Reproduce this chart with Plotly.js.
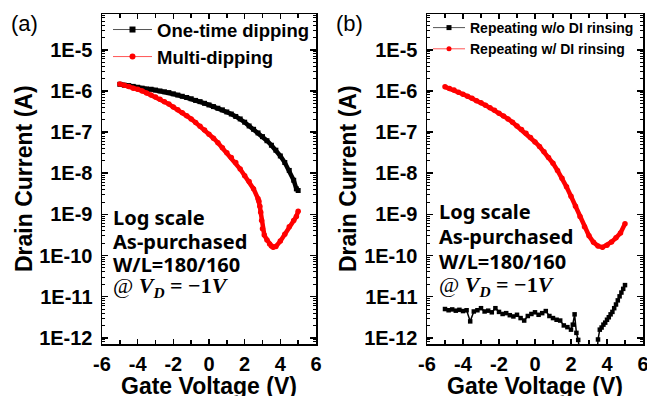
<!DOCTYPE html>
<html><head><meta charset="utf-8">
<script src="https://cdn.plot.ly/plotly-3.0.1.min.js"></script>
<style>html,body{margin:0;padding:0;background:#fff}#chart{width:647px;height:396px}</style>
</head><body><div id="chart"></div>
<script>
// ---- Data (gate voltage in V, drain current in A) ----
const vOneTime = [-5,-4.75,-4.5,-4.25,-4,-3.75,-3.5,-3.25,-3,-2.75,-2.5,-2.25,-2,-1.75,-1.5,-1.25,-1,-0.75,-0.5,-0.25,0,0.25,0.5,0.75,1,1.25,1.5,1.75,2,2.25,2.5,2.75,3,3.25,3.5,3.75,4,4.25,4.5,4.75,4.9,5];
const iOneTime = [1.45e-6,1.38e-6,1.35e-6,1.29e-6,1.23e-6,1.17e-6,1.12e-6,1.10e-6,1.05e-6,1.00e-6,9.55e-7,9.12e-7,8.51e-7,7.94e-7,7.41e-7,6.92e-7,6.46e-7,5.89e-7,5.50e-7,5.01e-7,4.57e-7,4.17e-7,3.80e-7,3.47e-7,3.09e-7,2.75e-7,2.40e-7,2.09e-7,1.74e-7,1.41e-7,1.17e-7,9.55e-8,7.76e-8,6.17e-8,4.79e-8,3.63e-8,2.63e-8,1.82e-8,1.17e-8,6.76e-9,4.17e-9,3.80e-9];

const vMulti = [-5,-4.75,-4.5,-4.25,-4,-3.75,-3.5,-3.25,-3,-2.75,-2.5,-2.25,-2,-1.75,-1.5,-1.25,-1,-0.75,-0.5,-0.25,0,0.25,0.5,0.75,1,1.25,1.5,1.75,2,2.25,2.5,2.75,2.8,2.85,2.9,2.95,3,3.1,3.25,3.4,3.5,3.6,3.75,4,4.25,4.5,4.75,4.9,5];
const iMulti = [1.48e-6,1.38e-6,1.29e-6,1.17e-6,1.10e-6,1.00e-6,8.91e-7,7.94e-7,7.08e-7,6.31e-7,5.50e-7,4.79e-7,4.07e-7,3.47e-7,2.95e-7,2.51e-7,2.09e-7,1.70e-7,1.38e-7,1.12e-7,8.91e-8,7.08e-8,5.50e-8,4.17e-8,3.16e-8,2.40e-8,1.82e-8,1.26e-8,8.71e-9,6.31e-9,4.17e-9,2.40e-9,2.09e-9,1.58e-9,1.12e-9,7.08e-10,4.47e-10,3.16e-10,2.40e-10,1.91e-10,1.70e-10,1.58e-10,1.66e-10,2.24e-10,3.31e-10,5.01e-10,7.08e-10,8.91e-10,1.20e-9];

const vNoRinse = [-5,-4.8,-4.6,-4.4,-4.2,-4,-3.8,-3.6,-3.4,-3.2,-3,-2.8,-2.6,-2.4,-2.2,-2,-1.8,-1.6,-1.4,-1.2,-1,-0.8,-0.6,-0.4,-0.2,0,0.2,0.4,0.6,0.8,1,1.2,1.4,1.6,1.8,2,2.1,2.2,2.3,2.4,2.5,3,3.45,3.5,3.6,3.7,3.8,3.9,4,4.1,4.2,4.3,4.4,4.5,4.6,4.7,4.8,4.9,5];
const iNoRinse = [5.01e-12,4.68e-12,4.90e-12,4.57e-12,4.79e-12,4.47e-12,4.68e-12,2.51e-12,4.37e-12,4.68e-12,5.25e-12,4.37e-12,4.57e-12,4.17e-12,5.25e-12,4.27e-12,3.80e-12,3.98e-12,3.55e-12,3.31e-12,3.63e-12,3.02e-12,2.63e-12,3.39e-12,3.80e-12,4.17e-12,3.63e-12,3.98e-12,4.47e-12,3.39e-12,3.02e-12,2.75e-12,2.63e-12,2.00e-12,1.82e-12,1.58e-12,2.09e-12,3.72e-12,1.32e-12,8.91e-13,3.98e-13,null,3.98e-13,9.12e-13,1.58e-12,1.78e-12,2.09e-12,2.34e-12,2.75e-12,3.16e-12,3.72e-12,4.27e-12,5.25e-12,6.46e-12,8.13e-12,1.02e-11,1.26e-11,1.55e-11,1.91e-11];

const vRinse = [-5,-4.75,-4.5,-4.25,-4,-3.75,-3.5,-3.25,-3,-2.75,-2.5,-2.25,-2,-1.75,-1.5,-1.25,-1,-0.75,-0.5,-0.25,0,0.25,0.5,0.75,1,1.25,1.5,1.75,2,2.25,2.5,2.75,3,3.25,3.5,3.75,4,4.25,4.5,4.75,5];
const iRinse = [1.26e-6,1.15e-6,1.05e-6,9.33e-7,8.32e-7,7.41e-7,6.61e-7,5.75e-7,5.13e-7,4.47e-7,3.89e-7,3.39e-7,2.88e-7,2.45e-7,2.09e-7,1.74e-7,1.41e-7,1.15e-7,9.33e-8,7.41e-8,5.75e-8,4.47e-8,3.31e-8,2.40e-8,1.74e-8,1.17e-8,7.59e-9,4.68e-9,2.75e-9,1.58e-9,8.91e-10,5.01e-10,3.02e-10,2.09e-10,1.70e-10,1.58e-10,1.78e-10,2.14e-10,2.69e-10,3.55e-10,5.89e-10];

const seriesNamesA = ['One-time dipping', 'Multi-dipping'];
const seriesNamesB = ['Repeating w/o DI rinsing', 'Repeating w/ DI rinsing'];
const xTickVals = [-6,-4,-2,0,2,4,6];
const xTickText = ['-6','-4','-2','0','2','4','6'];
const yTickVals = [1e-12,1e-11,1e-10,1e-9,1e-8,1e-7,1e-6,1e-5];
const yTickText = ['1E-12','1E-11','1E-10','1E-9','1E-8','1E-7','1E-6','1E-5'];
const xTitle = 'Gate Voltage (V)';
const yTitle = 'Drain Current (A)';
const noteLines = ['Log scale', 'As-purchased', 'W/L=180/160'];
const biasLine = '@ <b><i>V</i></b><sub><b><i>D</i></b></sub> <b>= −1<i>V</i></b>';

// ---- Layout helpers ----
const W = 647, H = 396;
const px = x => x / W;
const py = y => 1 - y / H;
const SANS = 'Liberation Sans, Arial, sans-serif';
const tickFont = {family: SANS, size: 20, weight: 700, color: '#000'};
const titleFont = {family: SANS, size: 23, weight: 700, color: '#000'};
const RED = '#ff0000';

function xAxis(domain, anchor) {
  return {domain, anchor, range: [-6, 6], tickmode: 'array', tickvals: xTickVals, ticktext: xTickText,
    ticks: 'inside', ticklen: 5, tickwidth: 1.5, tickcolor: '#000', showline: true, linewidth: 1.5,
    linecolor: '#000', mirror: 'allticks', showgrid: false, zeroline: false, tickfont: tickFont,
    ticklabelstandoff: 1, ticklabeloverflow: 'allow',
    minor: {ticks: 'inside', ticklen: 4, tickwidth: 1.5, tickcolor: '#000', dtick: 1, tick0: 0, showgrid: false},
    fixedrange: true};
}
function yAxis(anchor) {
  return {domain: [py(344), py(14)], anchor, type: 'log', range: [-12.15, -4.13], tickmode: 'array',
    tickvals: yTickVals, ticktext: yTickText, ticks: 'inside', ticklen: 6, tickwidth: 1.5, tickcolor: '#000',
    showline: true, linewidth: 1.5, linecolor: '#000', mirror: 'allticks', showgrid: false, zeroline: false,
    tickfont: tickFont, ticklabelstandoff: 4,
    minor: {ticks: 'inside', ticklen: 3, tickwidth: 1, tickcolor: '#000', dtick: 'D1', showgrid: false},
    fixedrange: true};
}

const traces = [
  {x: vOneTime, y: iOneTime, xaxis: 'x', yaxis: 'y', mode: 'lines+markers', showlegend: false,
   line: {color: '#000', width: 4.5}, marker: {symbol: 'square', size: 5, color: '#000'}},
  {x: vMulti, y: iMulti, xaxis: 'x', yaxis: 'y', mode: 'lines+markers', showlegend: false,
   line: {color: RED, width: 4.5}, marker: {symbol: 'circle', size: 5.5, color: RED}},
  {x: vNoRinse, y: iNoRinse, xaxis: 'x2', yaxis: 'y2', mode: 'lines+markers', showlegend: false, connectgaps: false,
   line: {color: '#000', width: 1.5}, marker: {symbol: 'square', size: 4.5, color: '#000'}},
  {x: vRinse, y: iRinse, xaxis: 'x2', yaxis: 'y2', mode: 'lines+markers', showlegend: false,
   line: {color: RED, width: 4.5}, marker: {symbol: 'circle', size: 5.5, color: RED}},
  // legend entries
  {x: [null], y: [null], xaxis: 'x', yaxis: 'y', mode: 'lines+markers', name: seriesNamesA[0], legend: 'legend',
   line: {color: '#555', width: 1}, marker: {symbol: 'square', size: 6, color: '#000'}},
  {x: [null], y: [null], xaxis: 'x', yaxis: 'y', mode: 'lines+markers', name: seriesNamesA[1], legend: 'legend',
   line: {color: '#ff5555', width: 1}, marker: {symbol: 'circle', size: 6, color: RED}},
  {x: [null], y: [null], xaxis: 'x2', yaxis: 'y2', mode: 'lines+markers', name: seriesNamesB[0], legend: 'legend2',
   line: {color: '#555', width: 1}, marker: {symbol: 'square', size: 5, color: '#000'}},
  {x: [null], y: [null], xaxis: 'x2', yaxis: 'y2', mode: 'lines+markers', name: seriesNamesB[1], legend: 'legend2',
   line: {color: '#ff5555', width: 1}, marker: {symbol: 'circle', size: 5, color: RED}}
];

const noteFont = {family: 'Noto Sans, sans-serif', size: 20, weight: 700, color: '#000'};
const biasFont = {family: 'Liberation Serif, serif', size: 22, color: '#000'};
const ann = (text, x, y, font, extra) => Object.assign({text, xref: 'paper', yref: 'paper', x: px(x), y: py(y),
  xanchor: 'center', yanchor: 'middle', showarrow: false, font}, extra || {});
const annotations = [
  ann('(a)', 24, 24, {family: SANS, size: 22, color: '#000'}),
  ann('(b)', 349, 24, {family: SANS, size: 22, color: '#000'}),
  ann(xTitle, 209, 386, titleFont),
  ann(xTitle, 535, 386, titleFont),
  ann(yTitle, 24, 179, titleFont, {textangle: -90}),
  ann(yTitle, 348, 179, titleFont, {textangle: -90})
];
const noteA = [217.5, 241, 264.5];
const noteB = [211.7, 236.7, 261.7];
noteLines.forEach((t, i) => {
  annotations.push(ann(t, 111, noteA[i], noteFont, {xanchor: 'left'}));
  annotations.push(ann(t, 437, noteB[i], noteFont, {xanchor: 'left'}));
});
annotations.push(ann(biasLine, 111, 287, biasFont, {xanchor: 'left'}));
annotations.push(ann(biasLine, 437, 286, biasFont, {xanchor: 'left'}));

const layout = {
  width: W, height: H, margin: {l: 0, r: 0, t: 0, b: 0}, paper_bgcolor: '#fff', plot_bgcolor: '#fff',
  xaxis: xAxis([px(102), px(316)], 'y'), yaxis: yAxis('x'),
  xaxis2: xAxis([px(427), px(643)], 'y2'), yaxis2: yAxis('x2'),
  legend: {x: px(108), xanchor: 'left', y: py(11), yanchor: 'top', bgcolor: 'rgba(0,0,0,0)', borderwidth: 0,
    font: {family: SANS, size: 18.5, weight: 700, color: '#000'}, itemwidth: 39, tracegroupgap: 0},
  legend2: {x: px(428), xanchor: 'left', y: py(12), yanchor: 'top', bgcolor: 'rgba(0,0,0,0)', borderwidth: 0,
    font: {family: SANS, size: 14, weight: 700, color: '#000'}, itemwidth: 32, tracegroupgap: 0},
  annotations
};
Plotly.newPlot('chart', traces, layout, {staticPlot: true, displayModeBar: false});
</script></body></html>
